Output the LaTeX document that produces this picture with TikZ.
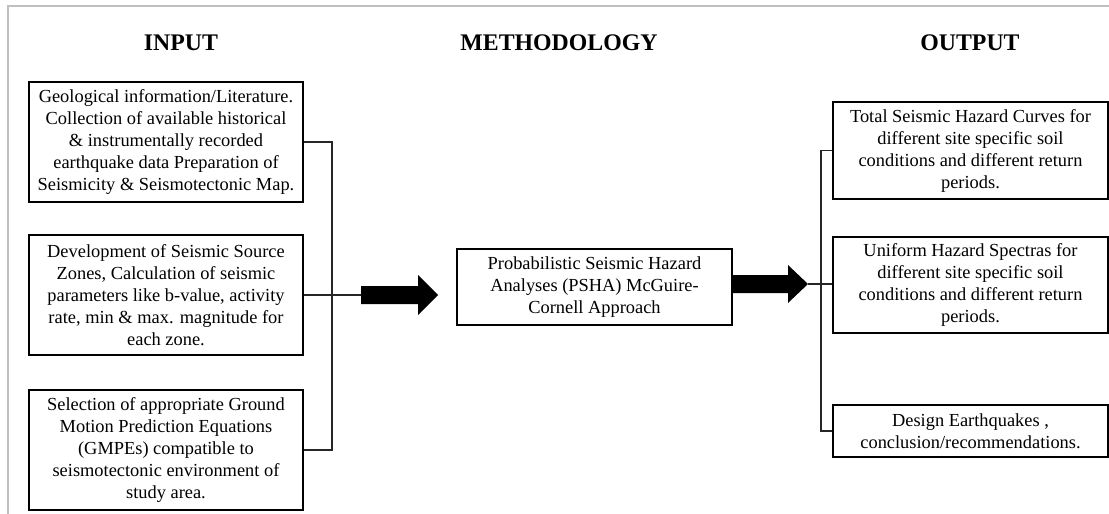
\documentclass[tikz,border=0pt]{standalone}
\usepackage{fontspec}
\setmainfont{Liberation Serif}
\begin{document}
\begin{tikzpicture}[x=1pt,y=-1pt,
  box/.style={draw=black,line width=1.8pt,rectangle,inner sep=0pt,align=center,
    font=\fontsize{18.4}{22}\selectfont},
  ttl/.style={font=\fontsize{23.8}{28}\selectfont\bfseries,inner sep=0pt,anchor=base},
  conn/.style={draw=black!85,line width=1.1pt},
  bigarrow/.style={fill=black,draw=none},
  frame/.style={draw=black!25,line width=1.4pt}]
\useasboundingbox (0,0) rectangle (1109,514);
% outer frame (partially visible)
\draw[frame] (8,514) -- (8,6) -- (1109,6);
% titles
\node[ttl] (tin) at (181,50) {INPUT};
\node[ttl] (tme) at (559,50) {METHODOLOGY};
\node[ttl] (tout) at (970,50) {OUTPUT};
% input boxes
\node[box,minimum width=274pt,minimum height=120pt] (b1) at (166,142)
 {Geological information/Literature.\\Collection of available historical\\\& instrumentally recorded\\earthquake data Preparation of\\Seismicity \& Seismotectonic Map.};
\node[box,minimum width=274pt,minimum height=120pt] (b2) at (166,295)
 {Development of Seismic Source\\Zones, Calculation of seismic\\parameters like b-value, activity\\rate, min \& max. magnitude for\\each zone.};
\node[box,minimum width=274pt,minimum height=120pt] (b3) at (166,450)
 {Selection of appropriate Ground\\Motion Prediction Equations\\(GMPEs) compatible to\\seismotectonic environment of\\study area.};
% methodology box
\node[box,minimum width=275pt,minimum height=76pt] (m) at (594.5,287)
 {Probabilistic Seismic Hazard\\Analyses (PSHA) McGuire-\\Cornell Approach};
% output boxes
\node[box,minimum width=275pt,minimum height=97pt] (oa) at (970.5,150.5)
 {Total Seismic Hazard Curves for\\different site specific soil\\conditions and different return\\periods.};
\node[box,minimum width=275pt,minimum height=96pt] (ob) at (970.5,285)
 {Uniform Hazard Spectras for\\different site specific soil\\conditions and different return\\periods.};
\node[box,minimum width=275pt,minimum height=52pt] (oc) at (970.5,431)
 {Design Earthquakes ,\\conclusion/recommendations.};
% left bus
\coordinate (busL) at (332,295);
\coordinate (a1tail) at (361,295);
\coordinate (a1tip) at (438,295);
\draw[conn] (b1.east) -| (busL);
\draw[conn] (busL) |- (b3.east);
\draw[conn] (b2.east) -- (a1tail);
% first big arrow
\fill[bigarrow] (a1tail) ++(0,-9) -- ++(57,0) -- ++(0,-11) -- (a1tip) -- ++(-20,20) -- ++(0,-11) -- ++(-57,0) -- cycle;
% second big arrow
\coordinate (a2tail) at (732,284);
\coordinate (a2tip) at (808,284);
\fill[bigarrow] (a2tail) ++(0,-9) -- ++(56,0) -- ++(0,-10) -- (a2tip) -- ++(-20,19) -- ++(0,-10) -- ++(-56,0) -- cycle;
% right bus
\coordinate (busR) at (821,284);
\draw[conn] (a2tip) -- (ob.west |- a2tip);
\draw[conn] (oa.west) -| (busR);
\draw[conn] (busR) |- (oc.west);
\end{tikzpicture}
\end{document}
